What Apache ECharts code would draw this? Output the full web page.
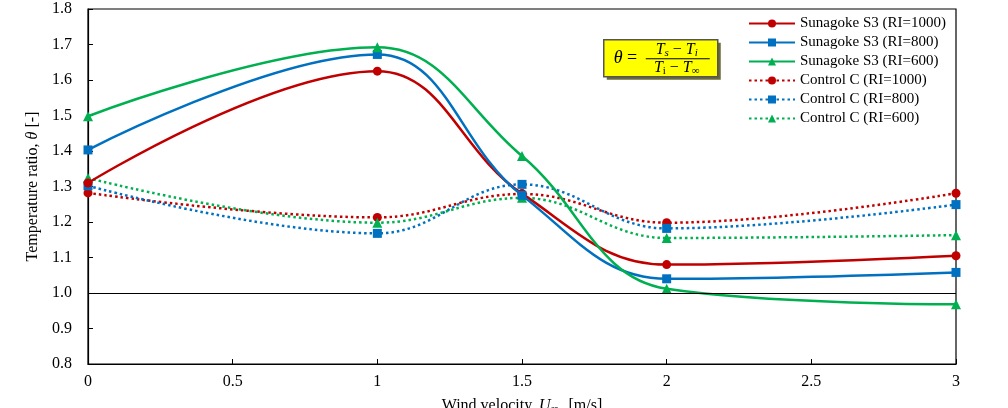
<!DOCTYPE html>
<html>
<head>
<meta charset="utf-8">
<script src="https://cdn.jsdelivr.net/npm/echarts@6/dist/echarts.min.js"></script>
<style>
  html, body { margin: 0; padding: 0; background: #fff; }
  #main { width: 1008px; height: 408px; }
</style>
</head>
<body>
<div id="main"></div>
<script>
// wind velocity (m/s) where measurements were taken
var windSpeed = [0, 1, 1.5, 2, 3];

// temperature ratio readings
var s3Ri1000 = [1.31, 1.625, 1.28, 1.08, 1.105];
var s3Ri800 = [1.403, 1.672, 1.275, 1.04, 1.058];
var s3Ri600 = [1.498, 1.692, 1.386, 1.012, 0.968];
var ctrlRi1000 = [1.282, 1.213, 1.279, 1.198, 1.281];
var ctrlRi800 = [1.302, 1.168, 1.306, 1.182, 1.249];
var ctrlRi600 = [1.324, 1.198, 1.268, 1.155, 1.163];

var RED = '#C00000', BLUE = '#0070C0', GREEN = '#00B050';
var FONT = '"Liberation Serif", "DejaVu Serif", serif';

function pairs(vals) {
    return windSpeed.map(function (x, i) { return [x, vals[i]]; });
}

function makeSeries(name, vals, color, symbol, dotted) {
    return {
        name: name,
        type: 'line',
        data: pairs(vals),
        smooth: 0.4,
        symbol: symbol,
        symbolSize: symbol === 'triangle' ? 10 : 9,
        itemStyle: { color: color },
        lineStyle: {
            color: color,
            width: 2.5,
            type: dotted ? [2.5, 3] : 'solid'
        },
        z: dotted ? 2 : 3
    };
}

var series = [
    makeSeries('Sunagoke S3 (RI=1000)', s3Ri1000, RED, 'circle', false),
    makeSeries('Sunagoke S3 (RI=800)', s3Ri800, BLUE, 'rect', false),
    makeSeries('Sunagoke S3 (RI=600)', s3Ri600, GREEN, 'triangle', false),
    makeSeries('Control C (RI=1000)', ctrlRi1000, RED, 'circle', true),
    makeSeries('Control C (RI=800)', ctrlRi800, BLUE, 'rect', true),
    makeSeries('Control C (RI=600)', ctrlRi600, GREEN, 'triangle', true)
];

// reference line at theta = 1
series[0].markLine = {
    silent: true,
    symbol: 'none',
    label: { show: false },
    lineStyle: { color: '#000', width: 1, type: 'solid' },
    data: [{ yAxis: 1.0 }]
};

var myChart = echarts.init(document.getElementById('main'));
myChart.setOption({
    backgroundColor: '#fff',
    animation: false,
    textStyle: { fontFamily: FONT },
    grid: {
        left: 88, right: 52, top: 9, bottom: 44,
        containLabel: false, outerBoundsMode: 'none',
        show: true, borderColor: '#000', borderWidth: 1.2
    },
    legend: {
        orient: 'vertical',
        left: 743,
        top: 11,
        itemWidth: 46,
        itemHeight: 10,
        itemGap: 4,
        textStyle: { fontFamily: FONT, fontSize: 15, color: '#000' },
        data: series.map(function (s) { return s.name; })
    },
    xAxis: {
        type: 'value',
        min: 0,
        max: 3,
        interval: 0.5,
        splitLine: { show: false },
        axisLine: { onZero: false, lineStyle: { color: '#000', width: 1.2 } },
        axisTick: { inside: true, length: 5, lineStyle: { color: '#000' } },
        axisLabel: { color: '#000', fontSize: 16, fontFamily: FONT, margin: 10 },
        name: '{n|Wind velocity, }{i|U}{s|∞}{n| [m/s]}',
        nameLocation: 'middle',
        nameGap: 32,
        nameTextStyle: {
            verticalAlign: 'top',
            rich: {
                n: { fontSize: 16, fontFamily: FONT, color: '#000' },
                i: { fontSize: 16, fontFamily: FONT, fontStyle: 'italic', color: '#000' },
                s: { fontSize: 11, fontFamily: FONT, color: '#000', verticalAlign: 'bottom', padding: [8, 6, 0, 0] }
            }
        }
    },
    yAxis: {
        type: 'value',
        min: 0.8,
        max: 1.8,
        interval: 0.1,
        splitLine: { show: false },
        axisLine: { lineStyle: { color: '#000', width: 1.2 } },
        axisTick: { inside: true, length: 5, lineStyle: { color: '#000' } },
        axisLabel: {
            color: '#000', fontSize: 16, fontFamily: FONT, margin: 16,
            formatter: function (v) { return v.toFixed(1); }
        },
        name: '{n|Temperature ratio, }{i|θ}{n| [-]}',
        nameLocation: 'middle',
        nameGap: 47,
        nameTextStyle: {
            rich: {
                n: { fontSize: 16, fontFamily: FONT, color: '#000' },
                i: { fontSize: 16, fontFamily: FONT, fontStyle: 'italic', color: '#000' }
            }
        }
    },
    graphic: [{
        type: 'group',
        left: 603,
        top: 39,
        children: [
            { type: 'rect', shape: { x: 3, y: 3, width: 114, height: 37 }, style: { fill: '#6b6b3a' } },
            { type: 'rect', shape: { x: 0, y: 0, width: 114, height: 37 }, style: { fill: '#FFFF00', stroke: '#555', lineWidth: 1.5 } },
            { type: 'text', x: 10, y: 19, style: { text: '{i|θ} =', rich: { i: { fontStyle: 'italic', fontSize: 18, fontFamily: FONT } }, fontSize: 18, fontFamily: FONT, fill: '#000', verticalAlign: 'middle' } },
            { type: 'text', x: 73, y: 10, style: { text: '{i|T}{s|s} − {i|T}{s|i}', rich: { i: { fontStyle: 'italic', fontSize: 16, fontFamily: FONT }, s: { fontStyle: 'italic', fontSize: 11, fontFamily: FONT, verticalAlign: 'bottom', padding: [6, 0, 0, 0] } }, fontSize: 16, fontFamily: FONT, fill: '#000', align: 'center', verticalAlign: 'middle' } },
            { type: 'line', shape: { x1: 42, y1: 19, x2: 106, y2: 19 }, style: { stroke: '#000', lineWidth: 1 } },
            { type: 'text', x: 73, y: 28, style: { text: '{i|T}{s|i} − {i|T}{s|∞}', rich: { i: { fontStyle: 'italic', fontSize: 16, fontFamily: FONT }, s: { fontSize: 11, fontFamily: FONT, verticalAlign: 'bottom', padding: [6, 0, 0, 0] } }, fontSize: 16, fontFamily: FONT, fill: '#000', align: 'center', verticalAlign: 'middle' } }
        ]
    }],
    series: series
});
</script>
</body>
</html>
